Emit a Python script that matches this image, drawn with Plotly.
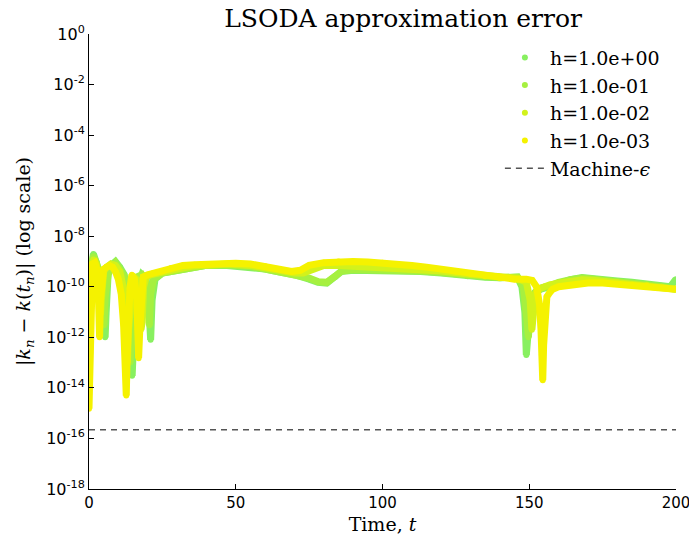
import plotly.graph_objects as go

# ---- data ----
labels = ["h=1.0e+00", "h=1.0e-01", "h=1.0e-02", "h=1.0e-03"]
colors = ["#88f060", "#a6f040", "#d2f21c", "#f5f200"]

t_h1 = [0, 0.3, 0.7, 1.5, 2.5, 3.5, 4.5, 5.2, 5.5, 5.8, 6.5, 7.5, 9, 10.5, 12, 13.2, 14, 14.4, 14.7, 15.0, 15.5, 16.5, 18, 19.5, 20.5, 21, 21.5, 22.5, 25, 30, 35, 40, 47, 55, 60, 65, 70, 75, 78, 81, 84, 86, 90, 95, 100, 106, 113, 120, 129, 135, 140, 146, 147.5, 148.5, 149, 149.5, 150.5, 152, 154, 157, 160, 164, 168, 172, 176, 180, 185, 190, 195, 198, 200]
e_h1 = [3e-13, 2e-11, 5e-10, 2e-9, 1e-9, 4e-10, 1e-10, 5e-12, 1e-12, 8e-12, 3e-10, 7e-10, 1e-9, 6e-10, 3e-10, 5e-11, 2e-12, 1e-13, 3e-14, 2e-13, 6e-12, 1e-10, 3e-10, 2e-10, 1e-11, 8e-13, 3e-11, 2e-10, 3.5e-10, 4.5e-10, 6e-10, 7e-10, 7e-10, 6e-10, 5e-10, 3.8e-10, 3e-10, 2e-10, 1.5e-10, 1.4e-10, 2.5e-10, 4e-10, 4.5e-10, 4.5e-10, 4.5e-10, 4.5e-10, 4e-10, 3.5e-10, 2.6e-10, 2.4e-10, 2.3e-10, 2.4e-10, 1e-10, 1e-11, 2e-13, 3e-12, 3e-11, 6e-11, 8e-11, 1e-10, 1.4e-10, 1.9e-10, 2.3e-10, 2e-10, 1.8e-10, 1.7e-10, 1.5e-10, 1.3e-10, 1.1e-10, 1e-10, 2e-10]

t_h2 = [0, 0.3, 0.7, 1.5, 2.5, 3.5, 4.3, 4.8, 5.1, 5.5, 6.5, 7.5, 9, 10.5, 12, 13, 13.6, 14.0, 14.3, 14.8, 15.5, 16.5, 18, 19.3, 20.2, 20.6, 21.0, 22, 25, 30, 35, 40, 47, 55, 60, 65, 70, 75, 78, 81, 84, 86, 90, 95, 100, 106, 113, 120, 129, 135, 140, 146, 148, 149.2, 149.7, 150.2, 151, 152.5, 154, 157, 160, 164, 168, 172, 176, 180, 185, 190, 195, 200]
e_h2 = [5e-13, 3e-11, 6e-10, 1.6e-9, 9e-10, 3e-10, 6e-11, 6e-12, 3e-12, 4e-11, 3e-10, 6e-10, 9e-10, 5e-10, 2.5e-10, 4e-11, 2e-12, 1e-13, 8e-13, 3e-11, 1.5e-10, 2.5e-10, 3e-10, 1.5e-10, 1e-11, 3e-12, 5e-11, 2e-10, 3.5e-10, 4.5e-10, 6e-10, 7e-10, 7.5e-10, 6.5e-10, 5e-10, 4e-10, 3e-10, 2.2e-10, 1.6e-10, 1.5e-10, 2.7e-10, 4.2e-10, 4.8e-10, 4.8e-10, 4.8e-10, 4.7e-10, 4.2e-10, 3.7e-10, 2.8e-10, 2.5e-10, 2.3e-10, 2.4e-10, 1e-10, 5e-12, 1e-12, 6e-12, 4e-11, 7e-11, 9e-11, 1.1e-10, 1.5e-10, 1.9e-10, 2.2e-10, 2e-10, 1.8e-10, 1.6e-10, 1.4e-10, 1.2e-10, 1e-10, 8e-11]

t_h3 = [0, 0.3, 0.7, 1.5, 2.5, 3.3, 3.9, 4.4, 5, 6, 7.5, 9, 10.5, 11.8, 12.6, 13.1, 13.5, 14.2, 15, 16.2, 17.2, 17.7, 18.1, 18.6, 19.5, 21, 25, 30, 35, 40, 47, 55, 60, 65, 70, 73, 76, 80, 85, 90, 95, 100, 106, 113, 120, 129, 135, 140, 146, 149, 150.3, 150.9, 151.4, 152, 153, 155, 157, 160, 164, 168, 172, 176, 180, 185, 190, 195, 200]
e_h3 = [1e-14, 1e-12, 3e-10, 1.2e-9, 8e-10, 2e-10, 8e-12, 6e-11, 4e-10, 6e-10, 8e-10, 7e-10, 4e-10, 8e-11, 2e-12, 1e-13, 2e-12, 8e-11, 2.5e-10, 2e-10, 3e-11, 2e-12, 4e-12, 1e-10, 2.5e-10, 3e-10, 4e-10, 5e-10, 6.5e-10, 7.5e-10, 8e-10, 7e-10, 5.5e-10, 4.5e-10, 3.5e-10, 3.5e-10, 5e-10, 7e-10, 7e-10, 6.5e-10, 6e-10, 5.5e-10, 5.5e-10, 5e-10, 4.2e-10, 3.2e-10, 2.7e-10, 2.3e-10, 2.2e-10, 1.5e-10, 3e-11, 2e-12, 8e-12, 5e-11, 8e-11, 1e-10, 1.2e-10, 1.4e-10, 1.7e-10, 1.9e-10, 1.8e-10, 1.6e-10, 1.5e-10, 1.3e-10, 1.2e-10, 1e-10, 8e-11]

t_h4 = [0, 0.2, 0.4, 0.7, 1.2, 2, 2.7, 3.2, 3.6, 3.9, 4.4, 5, 6, 7, 8, 9, 10, 11, 11.8, 12.3, 12.7, 13.0, 13.4, 14, 14.6, 15.5, 16.3, 16.9, 17.3, 17.8, 18.5, 20, 22, 25, 28, 32, 36, 40, 45, 50, 55, 60, 65, 69, 72, 75, 80, 85, 90, 95, 100, 105, 110, 115, 120, 125, 130, 135, 140, 145, 149, 151, 152.5, 153.5, 154, 154.3, 154.6, 154.9, 155.3, 156, 157, 158, 160, 163, 166, 170, 175, 180, 185, 190, 195, 200]
e_h4 = [1.5e-15, 5e-14, 3e-12, 2e-10, 8e-10, 9e-10, 5e-10, 5e-11, 1e-12, 3e-11, 4e-10, 5e-10, 6e-10, 7e-10, 6e-10, 4e-10, 2e-10, 5e-11, 3e-12, 1e-13, 5e-15, 2e-13, 5e-12, 1e-10, 3e-10, 2e-10, 3e-11, 1.5e-13, 2e-12, 6e-11, 2.5e-10, 3e-10, 3.5e-10, 4e-10, 5.5e-10, 7e-10, 7.5e-10, 8e-10, 8e-10, 8.5e-10, 8e-10, 6.5e-10, 5e-10, 4e-10, 4.5e-10, 7e-10, 9e-10, 1e-9, 1e-9, 9.5e-10, 9e-10, 8e-10, 7e-10, 6e-10, 5e-10, 4e-10, 3.2e-10, 2.6e-10, 2.2e-10, 2e-10, 2e-10, 1.8e-10, 1e-10, 2e-11, 2e-12, 2e-13, 2e-14, 5e-13, 1e-11, 4e-11, 6e-11, 8e-11, 1e-10, 1.1e-10, 1.3e-10, 1.4e-10, 1.4e-10, 1.3e-10, 1.2e-10, 1.1e-10, 9e-11, 8e-11]

machine_eps = 2.22e-16
eps_t = [0, 200]

ytick_vals = [1e-18, 1e-16, 1e-14, 1e-12, 1e-10, 1e-8, 1e-6, 1e-4, 1e-2, 1e0]
ytick_text = ["10<sup>-18</sup>", "10<sup>-16</sup>", "10<sup>-14</sup>", "10<sup>-12</sup>",
              "10<sup>-10</sup>", "10<sup>-8</sup>", "10<sup>-6</sup>", "10<sup>-4</sup>",
              "10<sup>-2</sup>", "10<sup>0</sup>"]
xtick_vals = [0, 50, 100, 150, 200]

series = [(t_h1, e_h1), (t_h2, e_h2), (t_h3, e_h3), (t_h4, e_h4)]

fig = go.Figure()
for (t, e), lab, c in zip(series, labels, colors):
    fig.add_trace(go.Scatter(x=t, y=e, mode="lines+markers", showlegend=False,
                             line=dict(color=c, width=7), marker=dict(color=c, size=6)))
for lab, c in zip(labels, colors):
    fig.add_trace(go.Scatter(x=[None], y=[None], mode="markers", name=lab,
                             marker=dict(color=c, size=6)))
fig.add_trace(go.Scatter(x=eps_t, y=[machine_eps, machine_eps], mode="lines",
                         name="Machine-<i>ϵ</i>",
                         line=dict(color="#555555", width=1.5, dash="6px,5px")))

serif = "DejaVu Serif"
fig.update_layout(
    width=689, height=538,
    margin=dict(l=89, r=13, t=34, b=49, autoexpand=False),
    paper_bgcolor="white", plot_bgcolor="white",
    title=dict(text="LSODA approximation error", xref="paper", x=0.535, xanchor="center",
               y=0.966, yanchor="middle",
               font=dict(family=serif, size=25, color="black")),
    font=dict(family="DejaVu Sans", size=15, color="black"),
    legend=dict(x=0.70, xanchor="left", y=0.99, yanchor="top",
                bgcolor="rgba(0,0,0,0)", borderwidth=0,
                font=dict(family=serif, size=19, color="black"),
                tracegroupgap=0, itemwidth=40),
    showlegend=True,
)
fig.update_xaxes(range=[0, 200], tickvals=xtick_vals, ticks="inside", ticklen=5,
                 tickcolor="black", showline=True, linecolor="black", linewidth=1,
                 showgrid=False, zeroline=False, mirror=False, ticklabeloverflow="allow",
                 automargin=False,
                 title=dict(text="Time, <i>t</i>", font=dict(family=serif, size=19), standoff=6),
                 tickfont=dict(family="DejaVu Sans", size=15))
fig.update_yaxes(type="log", range=[-18, 0], tickvals=ytick_vals, ticktext=ytick_text,
                 ticks="inside", ticklen=5, tickcolor="black", showline=True,
                 linecolor="black", linewidth=1, showgrid=False, zeroline=False,
                 automargin=False,
                 title=dict(text="|<i>k<sub>n</sub></i> − <i>k</i>(<i>t<sub>n</sub></i>)| (log scale)",
                            font=dict(family=serif, size=19), standoff=10),
                 tickfont=dict(family="DejaVu Sans", size=16))

fig.write_html("out.html")
